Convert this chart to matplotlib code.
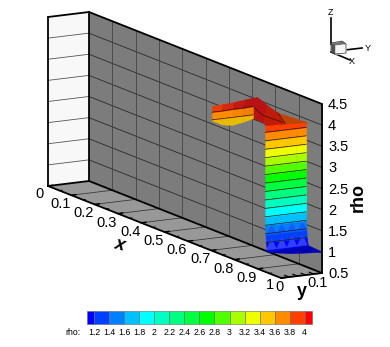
import numpy as np
import matplotlib
matplotlib.use("Agg")
import matplotlib.pyplot as plt
from matplotlib.collections import PolyCollection
from matplotlib.colors import ListedColormap, BoundaryNorm

plt.rcParams['font.family'] = ['Liberation Sans', 'DejaVu Sans']

# ---- data ----
x_ticks = [0, 0.1, 0.2, 0.3, 0.4, 0.5, 0.6, 0.7, 0.8, 0.9, 1]
x_labels = ['0', '0.1', '0.2', '0.3', '0.4', '0.5', '0.6', '0.7', '0.8', '0.9', '1']
y_ticks = [0, 0.1]
y_labels = ['0', '0.1']
z_ticks = [0.5, 1, 1.5, 2, 2.5, 3, 3.5, 4, 4.5]
z_labels = ['0.5', '1', '1.5', '2', '2.5', '3', '3.5', '4', '4.5']
levels = [1.1, 1.2, 1.4, 1.6, 1.8, 2.0, 2.2, 2.4, 2.6, 2.8, 3.0, 3.2, 3.4, 3.6, 3.8, 4.0, 4.1]
level_labels = ['1.2', '1.4', '1.6', '1.8', '2', '2.2', '2.4', '2.6', '2.8', '3', '3.2', '3.4', '3.6', '3.8', '4']
band_colors = ['#0000ff', '#0040ff', '#0080ff', '#00c0ff', '#00ffff', '#00ffc0', '#00ff80', '#00ff40',
               '#00ff00', '#50ff00', '#a8ff00', '#eeff00', '#ffc800', '#ff8c00', '#ff4000', '#ff0000']

# surface stations across the span direction
y_stations = [0.0, 0.025, 0.05, 0.075, 0.1]
# front wall of the step: rho at each row, x nearly constant
wall_rho = [1.0, 1.2, 1.4, 1.6, 1.8, 2.0, 2.2, 2.4, 2.6, 2.8, 3.0, 3.2, 3.4, 3.6, 3.8]
wall_x = [0.94, 0.935, 0.933, 0.932, 0.932, 0.932, 0.932, 0.932, 0.932, 0.932, 0.932, 0.932, 0.932, 0.932, 0.932]
wall_top_rho = [3.97, 3.96, 3.95, 3.93, 3.92]
# flat base beyond the step
base_x = [0.94, 0.951, 1.0, 0.94]
base_y = [0.0, 0.05, 0.1, 0.1]
base_rho = [0.985, 0.92, 1.0, 1.03]
# raised lip: x and rho at each y station, row by row
lip_x = [[0.704, 0.704, 0.704, 0.704, 0.704],
         [0.704, 0.704, 0.704, 0.704, 0.704],
         [0.704, 0.704, 0.704, 0.704, 0.704],
         [0.704, 0.704, 0.708, 0.712, 0.721]]
lip_rho = [[3.58, 3.46, 3.42, 3.46, 3.52],
           [3.60, 3.60, 3.60, 3.60, 3.60],
           [3.78, 3.78, 3.79, 3.79, 3.80],
           [3.93, 3.94, 3.97, 4.01, 4.06]]
lip_colors = [['#e6bc00'] * 4, ['#ff8c00', '#ff8c00', '#f88400', '#f08000'],
              ['#e83c00', '#d82810', '#c41a14', '#b81212']]
# plateau facets: (x, y, rho) corners
facet_x = [[0.704, 0.721, 0.764, 0.923, 0.876],
           [0.764, 0.811, 0.932, 0.932, 0.923],
           [0.811, 0.936, 0.932]]
facet_y = [[0.1, 0.1, 0.1, 0.0, 0.0],
           [0.1, 0.1, 0.0488, 0.0, 0.0],
           [0.1, 0.1, 0.0488]]
facet_rho = [[3.80, 4.06, 3.96, 4.02, 4.02],
             [3.96, 3.88, 3.95, 3.97, 4.02],
             [3.88, 3.93, 3.95]]
facet_colors = ['#b81212', '#c01a08', '#c04400']
# dark contour across the plateau
contour_x = [0.704, 0.830, 0.916]
contour_y = [0.1, 0.05, 0.05]
contour_rho = [3.80, 3.93, 3.95]

# ---- view (oblique projection onto the page) ----
ORIGIN = np.array([48.0, 186.0])
EX = np.array([233.0, 92.0])      # per unit x
EY = np.array([410.0, -50.0])     # per unit y
EZ = np.array([0.0, -42.25])      # per unit rho
Z0 = 0.5


def P(x, y, z):
    return ORIGIN + float(x) * EX + float(y) * EY + (float(z) - Z0) * EZ


fig = plt.figure(figsize=(3.9, 3.47), dpi=100)
ax = fig.add_axes([0, 0, 1, 1])
ax.set_xlim(0, 390)
ax.set_ylim(347, 0)
ax.axis('off')

Y0, Y1 = y_ticks[0], y_ticks[-1]
Z1 = z_ticks[-1]


def poly(pts, fc, z=1.0, ec=None, lw=0.3):
    ax.add_collection(PolyCollection([np.array(pts)], facecolors=fc, edgecolors=fc if ec is None else ec,
                                     linewidths=lw, zorder=z))


def line(a, b, c='k', lw=1.0, z=2):
    ax.plot([a[0], b[0]], [a[1], b[1]], color=c, lw=lw, zorder=z, solid_capstyle='round')


# walls
poly([P(0, Y0, Z0), P(0, Y1, Z0), P(0, Y1, Z1), P(0, Y0, Z1)], '#f8f8f8')
poly([P(0, Y1, Z0), P(1, Y1, Z0), P(1, Y1, Z1), P(0, Y1, Z1)], '#7c7c7c')
poly([P(0, Y0, Z0), P(1, Y0, Z0), P(1, Y1, Z0), P(0, Y1, Z0)], '#989898')

# grid
for t in z_ticks[1:-1]:
    line(P(0, Y0, t), P(0, Y1, t), '#555555', 0.6)
    line(P(0, Y1, t), P(1, Y1, t), '#2a2a2a', 0.6)
for t in x_ticks[1:-1]:
    line(P(t, Y1, Z0), P(t, Y1, Z1), '#444444', 0.6)
    line(P(t, Y0, Z0), P(t, Y1, Z0), '#333333', 0.55)

# axis ticks on the floor front edge
for t in x_ticks:
    line(P(t, Y0, Z0), P(t, Y0 + 0.012, Z0), 'k', 1.1, 3)
for t in np.array(x_ticks[:-1]) + 0.05:
    line(P(t, Y0, Z0), P(t, Y0 + 0.006, Z0), 'k', 0.8, 3)
for t in np.arange(0.02, 0.1, 0.02):
    line(P(1, t, Z0), P(0.98, t, Z0), 'k', 0.8, 3)

# box frame
for a, b in [((0, Y0, Z0), (0, Y1, Z0)), ((0, Y1, Z0), (1, Y1, Z0)), ((1, Y1, Z0), (1, Y0, Z0)),
             ((1, Y0, Z0), (0, Y0, Z0)), ((0, Y0, Z0), (0, Y0, Z1)), ((0, Y0, Z1), (0, Y1, Z1)),
             ((0, Y1, Z1), (0, Y1, Z0)), ((0, Y1, Z1), (1, Y1, Z1)), ((1, Y1, Z1), (1, Y1, Z0))]:
    line(P(*a), P(*b), 'k', 1.3, 4)

cmap = ListedColormap(band_colors)
norm = BoundaryNorm(levels, cmap.N, clip=True)


def shade(rho):
    return cmap(norm(rho))


n = len(y_stations)
# surface: wall rows
wr = list(wall_rho)
wx = list(wall_x)
for i in range(len(wr) - 1):
    for j in range(n - 1):
        quad = [P(wx[i], y_stations[j], wr[i]), P(wx[i], y_stations[j + 1], wr[i]),
                P(wx[i + 1], y_stations[j + 1], wr[i + 1]), P(wx[i + 1], y_stations[j], wr[i + 1])]
        poly(quad, shade((wr[i] + wr[i + 1]) / 2), 5)
# top wall row
for j in range(n - 1):
    quad = [P(wx[-1], y_stations[j], wr[-1]), P(wx[-1], y_stations[j + 1], wr[-1]),
            P(wx[-1], y_stations[j + 1], wall_top_rho[j + 1]), P(wx[-1], y_stations[j], wall_top_rho[j])]
    poly(quad, shade(3.9), 5)

# flat blue base
poly([P(a, b, c) for a, b, c in zip(base_x, base_y, base_rho)], '#0000b4', 5.5)
# lighter triangles at the wall foot
for j in range(n - 1):
    ym = (y_stations[j] + y_stations[j + 1]) / 2
    poly([P(wx[1], y_stations[j], 1.03), P(wx[1], y_stations[j + 1], 1.03), P(wx[1], ym, 1.3)], '#3040ff', 5.6)
    poly([P(wx[1], ym, 1.6), P(wx[1], y_stations[j + 1], 1.38), P(wx[1], y_stations[j], 1.38)], '#0f5cff', 5.6)
for i in range(1, len(wr)):
    line(P(wx[i], Y0, wr[i]), P(wx[i], Y1, wr[i]), '#1c1c1c', 0.5, 6)

# plateau facets behind the lip
for k, (fx, fy, fr, c) in enumerate(zip(facet_x, facet_y, facet_rho, facet_colors)):
    poly([P(a, b, d) for a, b, d in zip(fx, fy, fr)], c, 7 + 0.1 * k)
ax.plot(*np.array([P(a, b, d) for a, b, d in zip(contour_x, contour_y, contour_rho)]).T,
        color='#301000', lw=0.45, zorder=8)
line(P(facet_x[2][0], facet_y[2][0], facet_rho[2][0]), P(facet_x[2][2], facet_y[2][2], facet_rho[2][2]), '#301000', 0.45, 8)

# lip
lx = np.array(lip_x)
lr = np.array(lip_rho)
for i in range(len(lr) - 1):
    for j in range(n - 1):
        quad = [P(lx[i, j], y_stations[j], lr[i, j]), P(lx[i, j + 1], y_stations[j + 1], lr[i, j + 1]),
                P(lx[i + 1, j + 1], y_stations[j + 1], lr[i + 1, j + 1]), P(lx[i + 1, j], y_stations[j], lr[i + 1, j])]
        poly(quad, lip_colors[i][j], 8.5)
for i in [1, 2]:
    ax.plot(*np.array([P(lx[i, j], y_stations[j], lr[i, j]) for j in range(n)]).T,
            color='#301000', lw=0.45, zorder=9)

# tick labels
for t, s in zip(x_ticks, x_labels):
    p = P(t, Y0, Z0)
    off = (-9, 8) if t == 0 else ((-11, 9) if t < 1 else (-11, 7))
    ax.text(p[0] + off[0], p[1] + off[1], s, fontsize=10.5, ha='center', va='center', zorder=10)
for t, s in zip(y_ticks, y_labels):
    p = P(1, t, Z0)
    off = (-1, 9) if t == 0 else (-4, 10)
    ax.text(p[0] + off[0], p[1] + off[1], s, fontsize=10.5, ha='center', va='center', zorder=10)
for t, s in zip(z_ticks, z_labels):
    p = P(1, Y1, t)
    ax.text(p[0] + 6, p[1] + 1, s, fontsize=10.5, ha='left', va='center', zorder=10)

ax.text(120, 245, 'x', fontsize=13, fontweight='bold', fontstyle='italic', ha='center', va='center', rotation=-15)
ax.text(302, 292, 'y', fontsize=13, fontweight='bold', ha='center', va='center')
ax.text(358, 197, 'rho', fontsize=13, fontweight='bold', ha='center', va='center', rotation=90)

# orientation triad
ax.plot([331, 331], [18, 44], 'k', lw=1.2)
ax.plot([345, 362], [50, 48], 'k', lw=1.2)
ax.plot([331, 350], [52, 60], 'k', lw=1.2)
poly([(331, 43), (342, 41), (346, 44), (335, 45)], '#707070', 5)
poly([(331, 43), (335, 45), (335, 54), (331, 52)], '#505050', 5)
poly([(335, 45), (346, 44), (346, 53), (335, 54)], '#f4f4f4', 5)
ax.plot([331, 342, 346, 346, 335, 331, 331], [43, 41, 44, 53, 54, 52, 43], color='#333333', lw=0.5, zorder=6)
ax.text(331, 12, 'Z', fontsize=6.5, ha='center', va='center')
ax.text(368, 48, 'Y', fontsize=6.5, ha='center', va='center')
ax.text(352, 61, 'X', fontsize=6.5, ha='center', va='center')

# colour legend
LEFT, WIDTH_PER_UNIT = 86.7, 225.5 / 3.0
CB_T, CB_B = 310.7, 324.0
for k in range(len(levels) - 1):
    x0 = LEFT + (levels[k] - levels[0]) * WIDTH_PER_UNIT
    x1 = LEFT + (levels[k + 1] - levels[0]) * WIDTH_PER_UNIT
    poly([(x0, CB_T), (x1, CB_T), (x1, CB_B), (x0, CB_B)], band_colors[k], 3, '#666666', 0.4)
for lv, s in zip(levels[1:-1], level_labels):
    xp = LEFT + (lv - levels[0]) * WIDTH_PER_UNIT
    ax.text(xp, 332.5, s, fontsize=6.3, ha='center', va='center')
ax.text(73, 332.5, 'rho:', fontsize=6.3, ha='center', va='center')

fig.savefig('out.png', dpi=100)
